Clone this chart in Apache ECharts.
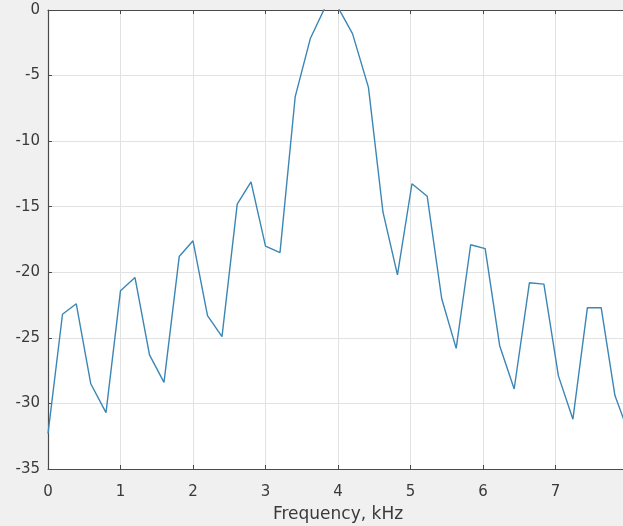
<!DOCTYPE html>
<html>
<head>
<meta charset="utf-8">
<script src="https://cdn.jsdelivr.net/npm/echarts@6/dist/echarts.min.js"></script>
<style>
html,body{margin:0;padding:0;background:#f0f0f0;}
#c{width:623px;height:526px;}
</style>
</head>
<body>
<div id="c"></div>
<script>
// Frequency (kHz) and magnitude (dB)
var freq = [0, 0.2, 0.39, 0.59, 0.8, 1.0, 1.2, 1.4, 1.6, 1.81, 2.0, 2.2, 2.4, 2.61, 2.8, 3.0, 3.2, 3.41, 3.62, 3.83, 4.0, 4.2, 4.42, 4.62, 4.82, 5.02, 5.23, 5.43, 5.63, 5.83, 6.03, 6.23, 6.43, 6.64, 6.84, 7.04, 7.24, 7.44, 7.63, 7.82, 8.02];
var mag = [-32.3, -23.2, -22.4, -28.5, -30.7, -21.4, -20.4, -26.3, -28.4, -18.8, -17.6, -23.3, -24.9, -14.8, -13.1, -18.0, -18.5, -6.6, -2.15, 0.3, 0.2, -1.8, -5.9, -15.4, -20.2, -13.25, -14.2, -22.0, -25.8, -17.9, -18.2, -25.6, -28.9, -20.8, -20.9, -27.9, -31.2, -22.7, -22.7, -29.4, -32.4];
var xTicks = [0, 1, 2, 3, 4, 5, 6, 7, 8];
var yTicks = [-35, -30, -25, -20, -15, -10, -5, 0];
var xLabel = 'Frequency, kHz';

var pts = freq.map(function (f, i) { return [f, mag[i]]; });
var font = 'DejaVu Sans';
var chart = echarts.init(document.getElementById('c'), null, {renderer: 'canvas'});
chart.setOption({
  backgroundColor: '#f0f0f0',
  animation: false,
  grid: {left: 48, top: 10, width: 580, height: 459, show: true, backgroundColor: '#ffffff', borderWidth: 0, containLabel: false, outerBoundsMode: 'none'},
  xAxis: [{
    type: 'value', min: xTicks[0], max: xTicks[xTicks.length - 1], interval: 1,
    position: 'bottom',
    name: xLabel, nameLocation: 'middle', nameGap: 37,
    nameTextStyle: {fontFamily: font, fontSize: 17, color: '#3a3a3a'},
    axisLine: {show: true, onZero: false, lineStyle: {color: '#4a4a4a', width: 1.2}},
    axisTick: {show: true, inside: true, length: 4, lineStyle: {color: '#4a4a4a'}},
    axisLabel: {fontFamily: font, fontSize: 15, color: '#3a3a3a', margin: 16, showMaxLabel: false},
    splitLine: {show: true, lineStyle: {color: '#e2e2e2', width: 1}}
  }, {
    type: 'value', min: xTicks[0], max: xTicks[xTicks.length - 1], interval: 1,
    position: 'top',
    axisLine: {show: true, onZero: false, lineStyle: {color: '#4a4a4a', width: 1.2}},
    axisTick: {show: true, inside: true, length: 4, lineStyle: {color: '#4a4a4a'}},
    axisLabel: {show: false},
    splitLine: {show: false}
  }],
  yAxis: {
    type: 'value', min: yTicks[0], max: yTicks[yTicks.length - 1], interval: 5,
    axisLine: {show: true, onZero: false, lineStyle: {color: '#4a4a4a', width: 1.2}},
    axisTick: {show: true, inside: true, length: 4, lineStyle: {color: '#4a4a4a'}},
    axisLabel: {fontFamily: font, fontSize: 15, color: '#3a3a3a', margin: 8},
    splitLine: {show: true, lineStyle: {color: '#e2e2e2', width: 1}}
  },
  series: [{
    type: 'line', data: pts, xAxisIndex: 0, showSymbol: false, symbol: 'none',
    clip: true,
    lineStyle: {color: '#3b86b5', width: 1.4}
  }]
});
</script>
</body>
</html>
